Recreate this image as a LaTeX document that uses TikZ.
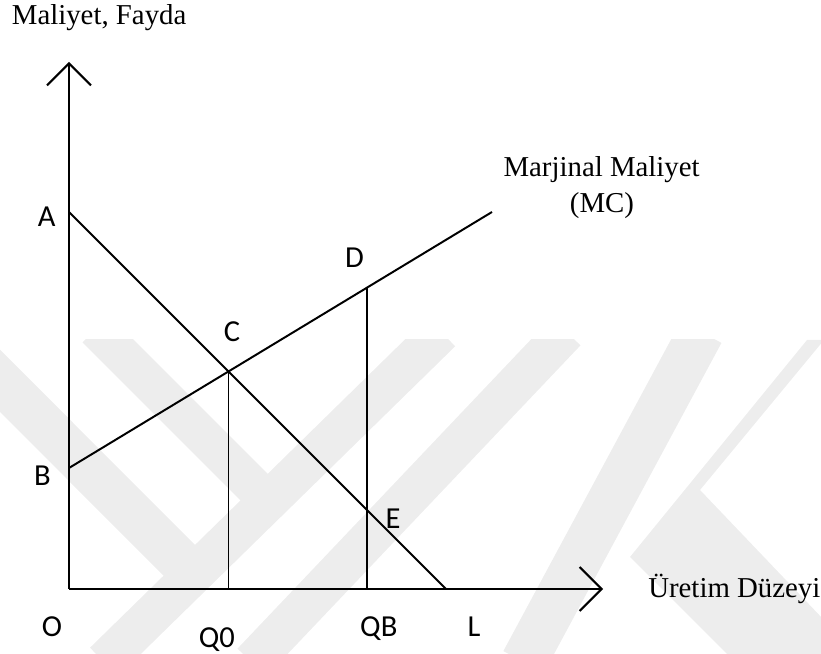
\documentclass[tikz,border=0pt]{standalone}
\usepackage{fontspec}
\setmainfont{Liberation Serif}
\newfontfamily\calibri{Carlito}
\usetikzlibrary{arrows.meta}

\begin{document}
\begin{tikzpicture}[
	axis/.style={line width=1.4pt, -{Straight Barb[length=0.55cm, width=1.1cm]}},
	curve/.style={line width=1.4pt},
	ptlabel/.style={font=\calibri\fontsize{21.7}{26}\selectfont, inner sep=0pt, anchor=base},
	axistext/.style={font=\fontsize{20.5}{25}\selectfont, inner sep=0pt},
	wm/.style={line width=1cm, color=black!7}
	]
	\useasboundingbox (0,0) rectangle (20.525,16.35);
	% faint watermark behind the graph
	\begin{scope}
		\clip (0,0) rectangle (20.525,7.85);
		\draw [wm] (2.6,-0.2) -- (11.03,8.05);
		\draw [wm, line width=1.1cm] (-0.5,7.33) -- (4.825,2.0);
		\draw [wm, line width=0.95cm] (2.4,8.125) -- (6.725,3.8);
		\draw [wm] (6.3,-0.21) -- (14.15,8.06);
		\draw [wm, line width=1.15cm] (13.09,-0.2) -- (17.53,8.05);
		\fill [black!7] (20.175,7.85) -- (15.75,2.425) -- (18.175,0) -- (20.6,0) -- (20.6,0.85) -- (17.5,4.1) -- (20.6,7.85) -- cycle;
	\end{scope}
	% points
	\coordinate (O) at (1.725,1.625);
	\coordinate (Ytop) at (1.725,14.8);
	\coordinate (Xend) at (15.075,1.625);
	\coordinate (A) at (1.725,11.05);
	\coordinate (B) at (1.725,4.65);
	\coordinate (L) at (11.15,1.625);
	\coordinate (MC) at (12.3,11.05);
	\coordinate (QB) at (9.175,1.625);
	\coordinate (QBtop) at (9.175,11);
	\coordinate (C) at (intersection of A--L and B--MC);
	\coordinate (Q0) at (C |- O);
	\coordinate (D) at (intersection of B--MC and QB--QBtop);
	\coordinate (E) at (intersection of A--L and QB--QBtop);
	% axes and lines
	\draw [axis] (O) -- (Ytop);
	\draw [axis] (O) -- (Xend);
	\draw [curve] (A) -- (L);
	\draw [curve] (B) -- (MC);
	\draw [curve] (C) -- (Q0);
	\draw [curve] (D) -- (QB);
	% letters
	\foreach \n/\x/\y in {A/1.167/10.675, B/1.06/4.2, O/1.3/0.425, C/5.8/7.8, D/8.86/9.65, E/9.825/3.125, Q0/5.42/0.15, QB/9.47/0.425, L/11.85/0.425} {
		\node [ptlabel] (lbl\n) at (\x,\y) {\n};
	}
	\node [axistext, anchor=base west] (ytext) at (0.29,15.725) {Maliyet, Fayda};
	\node [axistext, anchor=base] (mcname) at (15.04,11.93) {Marjinal Maliyet};
	\node [axistext, anchor=base] (mcabbr) at (15.05,11.025) {(MC)};
	\node [axistext, anchor=base west] (xtext) at (16.2,1.4) {Üretim Düzeyi};
\end{tikzpicture}
\end{document}
